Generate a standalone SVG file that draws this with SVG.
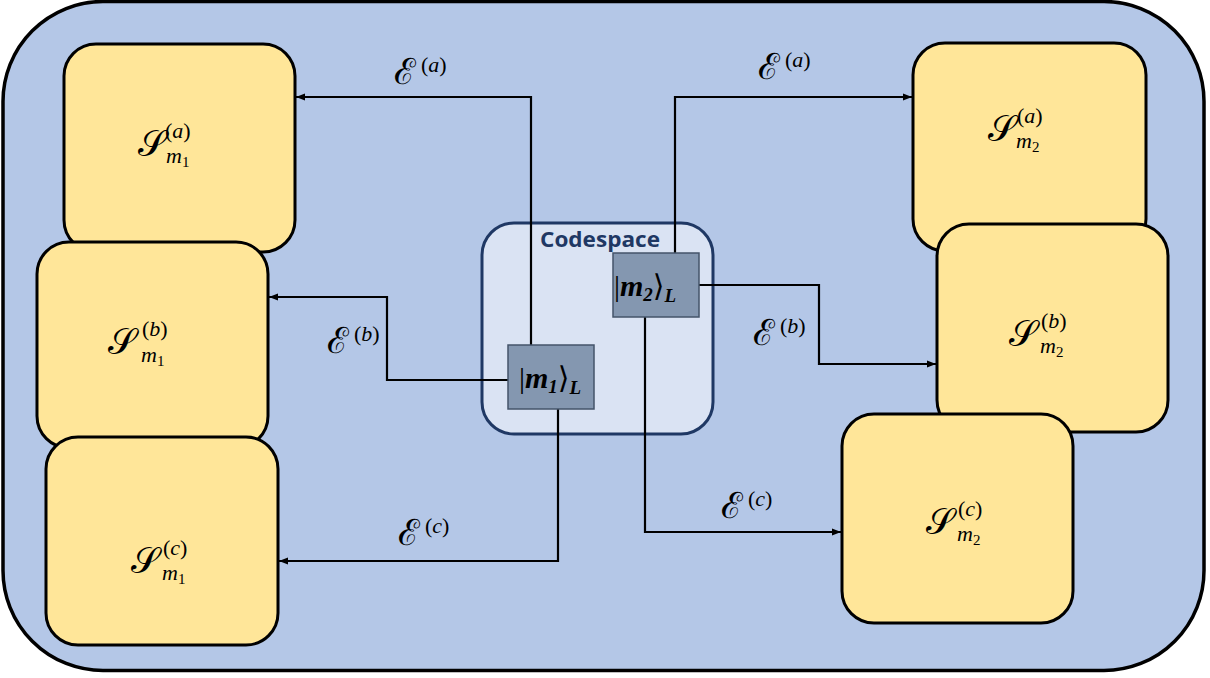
<svg xmlns="http://www.w3.org/2000/svg" width="1210" height="678" viewBox="0 0 1210 678">
<defs>
<marker id="arr" viewBox="0 0 10 10" refX="10" refY="5" markerWidth="9" markerHeight="9" markerUnits="userSpaceOnUse" orient="auto">
<path d="M0,1 L10,5 L0,9 z" fill="#000"/>
</marker>
</defs>
<style>
.outer{fill:#b4c7e7;stroke:#000;stroke-width:3.5}
.sbox{fill:#ffe699;stroke:#000;stroke-width:3}
.cs{fill:#dae3f3;stroke:#1f3864;stroke-width:3}
.mbox{fill:#8497b0;stroke:#44546a;stroke-width:1.5}
.conn{fill:none;stroke:#000;stroke-width:2.2;marker-end:url(#arr)}
.math{font-family:"Liberation Serif","DejaVu Serif",serif;fill:#000}
.big{font-size:36px}
.small{font-size:22px}
.it{font-style:italic}
.ket{font-family:"Liberation Serif","DejaVu Serif",serif;font-size:30px;fill:#000}
.bi{font-weight:bold;font-style:italic}
.cslabel{font-family:"Open Sans","Liberation Sans",sans-serif;font-weight:bold;font-size:21px;fill:#1f3864}
</style>
<rect class="outer" x="3" y="1.5" width="1201" height="669" rx="100"/>

<g id="codespace">
<rect class="cs" x="482" y="223" width="231" height="211" rx="32"/>
<text class="cslabel" x="600" y="247" text-anchor="middle" textLength="120" lengthAdjust="spacingAndGlyphs">Codespace</text>
</g>

<g id="S_m1_a">
<rect class="sbox" x="64" y="44" width="231" height="208" rx="32"/>
<text class="math"><tspan class="big" x="138" y="156">𝒮</tspan><tspan class="small" x="165" y="138">(<tspan class="it">a</tspan>)</tspan><tspan class="small" x="166" y="163"><tspan class="it">m</tspan><tspan font-size="15px" dy="4">1</tspan></tspan></text>
</g>
<g id="S_m1_b">
<rect class="sbox" x="37" y="242" width="231" height="206" rx="32"/>
<text class="math"><tspan class="big" x="108" y="354">𝒮</tspan><tspan class="small" x="142" y="336">(<tspan class="it">b</tspan>)</tspan><tspan class="small" x="141" y="362"><tspan class="it">m</tspan><tspan font-size="15px" dy="4">1</tspan></tspan></text>
</g>
<g id="S_m1_c">
<rect class="sbox" x="46" y="437" width="232" height="208" rx="32"/>
<text class="math"><tspan class="big" x="131" y="573">𝒮</tspan><tspan class="small" x="163" y="555">(<tspan class="it">c</tspan>)</tspan><tspan class="small" x="162" y="580"><tspan class="it">m</tspan><tspan font-size="15px" dy="4">1</tspan></tspan></text>
</g>

<g id="S_m2_a">
<rect class="sbox" x="913" y="43" width="233" height="208" rx="32"/>
<text class="math"><tspan class="big" x="988" y="141">𝒮</tspan><tspan class="small" x="1017" y="123">(<tspan class="it">a</tspan>)</tspan><tspan class="small" x="1016" y="148"><tspan class="it">m</tspan><tspan font-size="15px" dy="4">2</tspan></tspan></text>
</g>
<g id="S_m2_b">
<rect class="sbox" x="937" y="224" width="231" height="208" rx="32"/>
<text class="math"><tspan class="big" x="1009" y="346">𝒮</tspan><tspan class="small" x="1041" y="328">(<tspan class="it">b</tspan>)</tspan><tspan class="small" x="1040" y="353"><tspan class="it">m</tspan><tspan font-size="15px" dy="4">2</tspan></tspan></text>
</g>
<g id="S_m2_c">
<rect class="sbox" x="842" y="414" width="231" height="209" rx="32"/>
<text class="math"><tspan class="big" x="926" y="534">𝒮</tspan><tspan class="small" x="958" y="516">(<tspan class="it">c</tspan>)</tspan><tspan class="small" x="957" y="541"><tspan class="it">m</tspan><tspan font-size="15px" dy="4">2</tspan></tspan></text>
</g>

<g id="connectors">
<path class="conn" d="M531,345 V97 H296"/>
<path class="conn" d="M508,380 H387 V297 H269"/>
<path class="conn" d="M558,409 V561 H279"/>
<path class="conn" d="M675,253 V97 H912"/>
<path class="conn" d="M699,285 H819 V364 H936"/>
<path class="conn" d="M645,317 V532 H841"/>
</g>

<g id="labels">
<text class="math"><tspan class="big" x="394" y="84">ℰ</tspan><tspan class="small" x="421" y="72">(<tspan class="it">a</tspan>)</tspan></text>
<text class="math"><tspan class="big" x="758" y="79">ℰ</tspan><tspan class="small" x="785" y="67">(<tspan class="it">a</tspan>)</tspan></text>
<text class="math"><tspan class="big" x="327" y="353">ℰ</tspan><tspan class="small" x="354" y="341">(<tspan class="it">b</tspan>)</tspan></text>
<text class="math"><tspan class="big" x="753" y="345">ℰ</tspan><tspan class="small" x="780" y="333">(<tspan class="it">b</tspan>)</tspan></text>
<text class="math"><tspan class="big" x="398" y="545">ℰ</tspan><tspan class="small" x="425" y="533">(<tspan class="it">c</tspan>)</tspan></text>
<text class="math"><tspan class="big" x="721" y="518">ℰ</tspan><tspan class="small" x="748" y="506">(<tspan class="it">c</tspan>)</tspan></text>
</g>

<g id="m1">
<rect class="mbox" x="508" y="345" width="86" height="64"/>
<text class="ket" x="519" y="388">|<tspan class="bi">m</tspan><tspan class="bi" font-size="19px" dy="5">1</tspan><tspan dy="-5">⟩</tspan><tspan class="bi" font-size="19px" dy="6">L</tspan></text>
</g>
<g id="m2">
<rect class="mbox" x="613" y="253" width="86" height="64"/>
<text class="ket" x="614" y="296">|<tspan class="bi">m</tspan><tspan class="bi" font-size="19px" dy="5">2</tspan><tspan dy="-5">⟩</tspan><tspan class="bi" font-size="19px" dy="6">L</tspan></text>
</g>
</svg>
